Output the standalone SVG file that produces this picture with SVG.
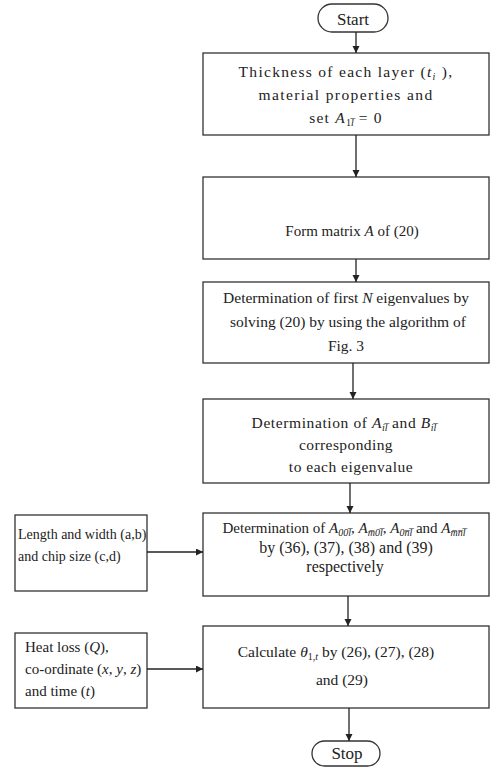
<svg xmlns="http://www.w3.org/2000/svg" width="493" height="768" viewBox="0 0 493 768">
<defs>
<style>
.box{fill:#fff;stroke:#333;stroke-width:1.3}
.t{font-family:"Liberation Serif","Times New Roman",serif;fill:#222;text-anchor:middle}
.l{font-family:"Liberation Serif","Times New Roman",serif;fill:#222}
.i{font-style:italic}
.s{font-size:10px}
.c{stroke:#222;stroke-width:1.3;fill:none}
</style>
<marker id="ah" markerWidth="8" markerHeight="8" refX="7" refY="3.5" orient="auto" markerUnits="userSpaceOnUse">
<path d="M0,0 L7,3.5 L0,7 z" fill="#222"/>
</marker>
</defs>
<rect width="493" height="768" fill="#fff"/>
<g id="start">
<rect class="box" x="318" y="4" width="70" height="28" rx="14"/>
<text class="t" x="353" y="25" font-size="17">Start</text>
</g>
<g id="n1">
<rect class="box" x="203" y="53" width="286" height="82"/>
<text class="t" x="346" y="77" font-size="15.5" letter-spacing="1.3">Thickness of each layer (<tspan class="i">t</tspan><tspan class="i s" dy="3">i</tspan><tspan dy="-3"> ),</tspan></text>
<text class="t" x="346" y="100" font-size="15.5" letter-spacing="1.4">material properties and</text>
<text class="t" x="346" y="123" font-size="15.5" letter-spacing="1.2">set <tspan class="i">A</tspan><tspan class="s" dy="3" letter-spacing="0">1</tspan><tspan class="i s" dy="0" letter-spacing="0">l&#x305;</tspan><tspan dy="-3"> = 0</tspan></text>
</g>
<g id="n2">
<rect class="box" x="203" y="177" width="286" height="82"/>
<text class="t" x="352" y="236" font-size="15">Form matrix <tspan class="i">A</tspan> of (20)</text>
</g>
<g id="n3">
<rect class="box" x="203" y="282" width="286" height="81"/>
<text class="t" x="346" y="303" font-size="15.5">Determination of first <tspan class="i">N</tspan> eigenvalues by</text>
<text class="t" x="348" y="327" font-size="15.5">solving (20) by using the algorithm of</text>
<text class="t" x="346" y="351" font-size="15.5">Fig. 3</text>
</g>
<g id="n4">
<rect class="box" x="203" y="399" width="286" height="84"/>
<text class="t" x="344" y="428" font-size="15.5" letter-spacing="0.6">Determination of <tspan class="i">A</tspan><tspan class="i s" dy="3" letter-spacing="0">il&#x305;</tspan><tspan dy="-3"> and </tspan><tspan class="i">B</tspan><tspan class="i s" dy="3" letter-spacing="0">il&#x305;</tspan></text>
<text class="t" x="346" y="450" font-size="15.5" letter-spacing="0.4">corresponding</text>
<text class="t" x="351" y="472" font-size="15.5" letter-spacing="0.5">to each eigenvalue</text>
</g>
<g id="n5">
<rect class="box" x="203" y="513" width="286" height="83"/>
<text class="t" x="344" y="533" font-size="15">Determination of <tspan class="i">A</tspan><tspan class="i s" dy="3">00l&#x305;</tspan><tspan dy="-3">, </tspan><tspan class="i">A</tspan><tspan class="i s" dy="3">m&#x305;0l&#x305;</tspan><tspan dy="-3">, </tspan><tspan class="i">A</tspan><tspan class="i s" dy="3">0n&#x305;l&#x305;</tspan><tspan dy="-3"> and </tspan><tspan class="i">A</tspan><tspan class="i s" dy="3">m&#x305;n&#x305;l&#x305;</tspan></text>
<text class="t" x="346" y="553" font-size="16">by (36), (37), (38) and (39)</text>
<text class="t" x="345" y="572" font-size="16">respectively</text>
</g>
<g id="in5">
<rect class="box" x="15" y="515" width="132" height="76"/>
<text class="l" x="18" y="539" font-size="14">Length and width (a,b)</text>
<text class="l" x="18" y="561" font-size="14">and chip size (c,d)</text>
</g>
<g id="n6">
<rect class="box" x="203" y="626" width="286" height="82"/>
<text class="t" x="336" y="657" font-size="15.5">Calculate <tspan class="i">θ</tspan><tspan class="s" dy="3">1,</tspan><tspan class="i s">t</tspan><tspan dy="-3">  by (26), (27), (28)</tspan></text>
<text class="t" x="342" y="685" font-size="15.5">and (29)</text>
</g>
<g id="in6">
<rect class="box" x="15" y="633" width="132" height="75"/>
<text class="l" x="25" y="652" font-size="15">Heat loss (<tspan class="i">Q</tspan>),</text>
<text class="l" x="25" y="674" font-size="15">co-ordinate (<tspan class="i">x</tspan>, <tspan class="i">y</tspan>, <tspan class="i">z</tspan>)</text>
<text class="l" x="25" y="696" font-size="15">and time (<tspan class="i">t</tspan>)</text>
</g>
<g id="stop">
<rect class="box" x="312" y="741" width="68" height="25" rx="12.5"/>
<text class="t" x="347" y="759" font-size="17">Stop</text>
</g>
<g id="connectors">
<line class="c" x1="356" y1="32" x2="356" y2="53" marker-end="url(#ah)"/>
<line class="c" x1="356" y1="135" x2="356" y2="177" marker-end="url(#ah)"/>
<line class="c" x1="356" y1="259" x2="356" y2="282" marker-end="url(#ah)"/>
<line class="c" x1="353" y1="363" x2="353" y2="399" marker-end="url(#ah)"/>
<line class="c" x1="350" y1="483" x2="350" y2="513" marker-end="url(#ah)"/>
<line class="c" x1="348" y1="596" x2="348" y2="626" marker-end="url(#ah)"/>
<line class="c" x1="349" y1="708" x2="349" y2="741" marker-end="url(#ah)"/>
<line class="c" x1="147" y1="552" x2="203" y2="552" marker-end="url(#ah)"/>
<line class="c" x1="147" y1="669" x2="203" y2="669" marker-end="url(#ah)"/>
</g>
</svg>
